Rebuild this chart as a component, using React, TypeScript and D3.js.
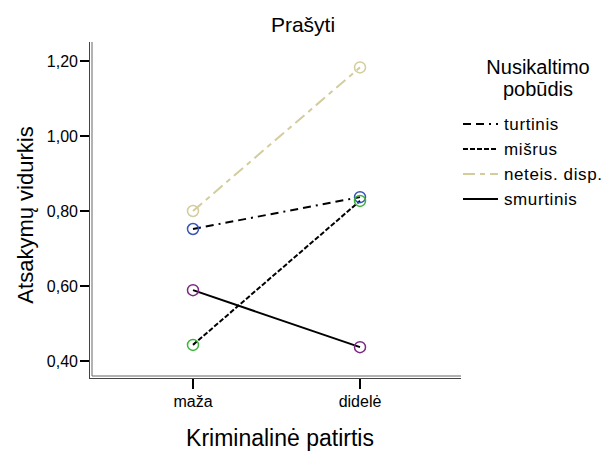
import React from "react";
import * as d3 from "d3";

const categories = ["maža", "didelė"];
const seriesNames = ["turtinis", "mišrus", "neteis. disp.", "smurtinis"];
const turtinis = [0.752, 0.837];
const misrus = [0.443, 0.827];
const neteis = [0.8, 1.183];
const smurtinis = [0.589, 0.437];
const yTicks = [0.4, 0.6, 0.8, 1.0, 1.2];

const seriesValues = [turtinis, misrus, neteis, smurtinis];
const lineColors = ["#000000", "#000000", "#d3cc9c", "#000000"];
const markerColors = ["#3a55b4", "#3cb43c", "#d3cc9c", "#7b2a82"];
const dashes = ["8,5,8,5,2,5", "5,2", "12,5,5,5", "none"];

export default function App() {
  const W = 615, H = 453;
  const y = d3.scaleLinear().domain([0.4, 1.2]).range([361, 61]);
  const x = d3.scalePoint<string>().domain(categories).range([193, 360]);
  const line = d3.line<number>().x((_, i) => x(categories[i])!).y((d) => y(d));
  const font = "Arial, 'Liberation Sans', sans-serif";
  const fmt = (v: number) => v.toFixed(2).replace(".", ",");
  return (
    <svg width={W} height={H} style={{ position: "absolute", left: 0, top: 0, background: "#fff" }} fontFamily={font}>
      <text x={303} y={32} textAnchor="middle" fontSize={21}>Prašyti</text>
      {/* axis frame double lines */}
      <line x1={89.5} x2={89.5} y1={42} y2={378} stroke="#444" strokeWidth={1} />
      <line x1={92} x2={92} y1={42} y2={376} stroke="#666" strokeWidth={1} />
      <line x1={89} x2={461} y1={378.5} y2={378.5} stroke="#444" strokeWidth={1} />
      <line x1={92} x2={461} y1={376} y2={376} stroke="#666" strokeWidth={1} />
      {yTicks.map((t) => (
        <g key={t}>
          <line x1={80} x2={89} y1={y(t)} y2={y(t)} stroke="#000" strokeWidth={2} />
          <text x={78} y={y(t) + 6} textAnchor="end" fontSize={16}>{fmt(t)}</text>
        </g>
      ))}
      {categories.map((c) => (
        <g key={c}>
          <line x1={x(c)} x2={x(c)} y1={379} y2={389} stroke="#000" strokeWidth={2} />
          <text x={x(c)} y={407} textAnchor="middle" fontSize={16}>{c}</text>
        </g>
      ))}
      <text x={280} y={446} textAnchor="middle" fontSize={23}>Kriminalinė patirtis</text>
      <text transform={`translate(33,215) rotate(-90)`} textAnchor="middle" fontSize={22}>Atsakymų vidurkis</text>
      {seriesValues.map((vals, si) => (
        <path key={si} d={line(vals)!} fill="none" stroke={lineColors[si]} strokeWidth={2}
          strokeDasharray={dashes[si]} />
      ))}
      {seriesValues.map((vals, si) =>
        vals.map((v, i) => (
          <circle key={si + "-" + i} cx={x(categories[i])} cy={y(v)} r={5.5} fill="none"
            stroke={markerColors[si]} strokeWidth={1.5} />
        ))
      )}
      <text x={538} y={74} textAnchor="middle" fontSize={20}>Nusikaltimo</text>
      <text x={538} y={96} textAnchor="middle" fontSize={20}>pobūdis</text>
      {seriesNames.map((n, i) => {
        const ly = 124 + i * 25;
        return (
          <g key={n}>
            <line x1={463} x2={498} y1={ly} y2={ly} stroke={lineColors[i]} strokeWidth={2}
              strokeDasharray={dashes[i]} />
            <text x={504} y={ly + 6} fontSize={17} letterSpacing={0.6}>{n}</text>
          </g>
        );
      })}
    </svg>
  );
}
